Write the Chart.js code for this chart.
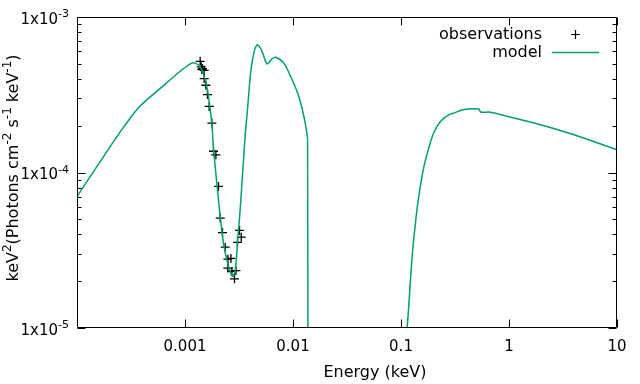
<!DOCTYPE html>
<html>
<head>
<meta charset="utf-8">
<script src="https://cdn.jsdelivr.net/npm/chart.js@4/dist/chart.umd.min.js"></script>
<style>
  body { margin: 0; background: #fff; }
  #wrap { width: 640px; height: 384px; }
</style>
</head>
<body>
<div id="wrap"><canvas id="myChart" width="640" height="384"></canvas></div>
<script>
// model curve (keV, keV^2 photons/cm^2/s/keV), null = gap
var modelEnergy = [1e-4, 1.469e-4, 2.249e-4, 2.786e-4, 3.838e-4, 6.13e-4, 9.02e-4, 1.047e-3, 1.165e-3, 1.296e-3, 1.38e-3,
  1.54e-3, 1.65e-3, 1.77e-3, 1.84e-3, 1.97e-3, 2.12e-3, 2.27e-3, 2.44e-3, 2.62e-3, 2.76e-3,
  2.92e-3, 3.06e-3, 3.24e-3, 3.48e-3, 3.61e-3, 3.74e-3, 3.88e-3, 4.02e-3, 4.17e-3, 4.47e-3,
  4.7e-3, 5.16e-3, 5.74e-3, 6.39e-3, 6.86e-3, 8.19e-3, 9.79e-3, 1.13e-2, 1.26e-2, 1.366e-2,
  1.366e-2, 0.05, 0.105, 0.114, 0.1268, 0.136, 0.146, 0.163, 0.181, 0.201,
  0.232, 0.277, 0.308, 0.382, 0.526, 0.546, 0.675, 1.0, 1.96, 4.0, 10];
var modelFlux = [7.01e-5, 1.047e-4, 1.633e-4, 2.018e-4, 2.673e-4, 3.556e-4, 4.48e-4, 4.84e-4, 5.07e-4, 4.98e-4, 4.82e-4,
  3.96e-4, 3.09e-4, 2.08e-4, 1.40e-4, 8.56e-5, 5.21e-5, 3.51e-5, 2.74e-5, 2.31e-5, 2.14e-5,
  2.36e-5, 3.51e-5, 5.75e-5, 1.2e-4, 1.75e-4, 2.30e-4, 3.09e-4, 4.16e-4, 5.07e-4, 6.33e-4,
  6.62e-4, 6.03e-4, 5.0e-4, 5.38e-4, 5.51e-4, 5.07e-4, 3.96e-4, 3.09e-4, 2.30e-4, 1.586e-4,
  1e-7, null, 6e-6, 1.0e-5, 2.88e-5, 4.73e-5, 7.01e-5, 1.09e-4, 1.44e-4, 1.80e-4,
  2.13e-4, 2.35e-4, 2.41e-4, 2.54e-4, 2.56e-4, 2.45e-4, 2.44e-4, 2.28e-4, 2.03e-4, 1.75e-4, 1.40e-4];

// observations
var obsEnergy = [1.382e-3, 1.411e-3, 1.451e-3, 1.433e-3, 1.505e-3, 1.505e-3, 1.561e-3, 1.614e-3, 1.674e-3, 1.774e-3,
  1.836e-3, 1.932e-3, 2.042e-3, 2.118e-3, 2.224e-3, 2.356e-3, 2.496e-3, 2.661e-3, 2.496e-3, 2.719e-3,
  2.961e-3, 2.873e-3, 3.065e-3, 3.199e-3, 3.317e-3];
var obsFlux = [5.19e-4, 4.78e-4, 4.66e-4, 4.59e-4, 4.54e-4, 4.02e-4, 3.64e-4, 3.17e-4, 2.66e-4, 2.08e-4,
  1.37e-4, 1.30e-4, 8.14e-5, 5.09e-5, 4.11e-5, 3.31e-5, 2.77e-5, 2.80e-5, 2.43e-5, 2.31e-5,
  2.34e-5, 2.07e-5, 3.55e-5, 4.24e-5, 3.84e-5];

var xTicks = [0.001, 0.01, 0.1, 1, 10];
var xTickLabels = ['0.001', '0.01', '0.1', '1', '10'];
var yTicks = [1e-5, 1e-4, 1e-3];
var yTickExp = ['-5', '-4', '-3'];

var green = '#009e73';
var FONT = '"DejaVu Sans", sans-serif';

function drawRich(ctx, parts, x, y, size, align) {
  // parts: [text, isSuperscript]
  var small = Math.round(size * 0.72);
  var w = 0, i;
  for (i = 0; i < parts.length; i++) {
    ctx.font = (parts[i][1] ? small : size) + 'px ' + FONT;
    w += ctx.measureText(parts[i][0]).width;
  }
  var cx = align === 'right' ? x - w : (align === 'center' ? x - w / 2 : x);
  ctx.textAlign = 'left';
  ctx.textBaseline = 'alphabetic';
  for (i = 0; i < parts.length; i++) {
    ctx.font = (parts[i][1] ? small : size) + 'px ' + FONT;
    ctx.fillText(parts[i][0], cx, parts[i][1] ? y - size * 0.42 : y);
    cx += ctx.measureText(parts[i][0]).width;
  }
}

var frame = {
  id: 'frame',
  afterDraw: function(chart) {
    var ctx = chart.ctx, a = chart.chartArea;
    var xs = chart.scales.x, ys = chart.scales.y;
    var L = Math.round(a.left) + 0.5, R = Math.round(a.right) - 0.5;
    var T = Math.round(a.top) + 0.5, B = Math.round(a.bottom) - 0.5;
    ctx.save();
    ctx.strokeStyle = '#000';
    ctx.lineWidth = 1;
    ctx.beginPath();
    ctx.rect(L, T, R - L, B - T);
    // y ticks
    for (var d = -5; d < -2; d++) {
      for (var m = 1; m <= 9; m++) {
        var v = m * Math.pow(10, d);
        var py = Math.round(ys.getPixelForValue(v)) + 0.5;
        var len = m === 1 ? 8 : 4;
        ctx.moveTo(L, py); ctx.lineTo(L + len, py);
        ctx.moveTo(R, py); ctx.lineTo(R - len, py);
      }
    }
    ctx.moveTo(L, T); ctx.lineTo(L + 8, T);
    ctx.moveTo(R, T); ctx.lineTo(R - 8, T);
    // x ticks
    xTicks.forEach(function(v) {
      var px = Math.round(xs.getPixelForValue(v)) + 0.5;
      ctx.moveTo(px, B); ctx.lineTo(px, B - 8);
      ctx.moveTo(px, T); ctx.lineTo(px, T + 8);
    });
    ctx.stroke();

    ctx.fillStyle = '#000';
    ctx.font = '15px ' + FONT;
    ctx.textAlign = 'center';
    ctx.textBaseline = 'middle';
    xTicks.forEach(function(v, i) {
      ctx.fillText(xTickLabels[i], xs.getPixelForValue(v), 347);
    });
    yTicks.forEach(function(v, i) {
      var py = ys.getPixelForValue(v);
      drawRich(ctx, [['1x10', false], [yTickExp[i], true]], 69, py + 6.5, 15, 'right');
    });

    // axis titles
    ctx.font = '16px ' + FONT;
    ctx.textAlign = 'center';
    ctx.textBaseline = 'middle';
    ctx.fillText('Energy (keV)', 375, 373);
    ctx.save();
    ctx.translate(18, 168);
    ctx.rotate(-Math.PI / 2);
    drawRich(ctx, [['keV', false], ['2', true], ['(Photons cm', false], ['-2', true],
      [' s', false], ['-1', true], [' keV', false], ['-1', true], [')', false]], 0, 0, 16, 'center');
    ctx.restore();

    // legend
    ctx.font = '16px ' + FONT;
    ctx.textAlign = 'right';
    ctx.textBaseline = 'middle';
    ctx.fillText('observations', 542, 35);
    ctx.fillText('model', 542, 53);
    ctx.lineWidth = 1.2;
    ctx.beginPath();
    ctx.moveTo(571, 34.5); ctx.lineTo(580, 34.5);
    ctx.moveTo(575.5, 30); ctx.lineTo(575.5, 39);
    ctx.stroke();
    ctx.strokeStyle = green;
    ctx.lineWidth = 1.5;
    ctx.beginPath();
    ctx.moveTo(552, 52.5); ctx.lineTo(599, 52.5);
    ctx.stroke();
    ctx.restore();
  }
};

var modelData = modelEnergy.map(function(e, i) { return {x: e, y: modelFlux[i]}; });
var obsData = obsEnergy.map(function(e, i) { return {x: e, y: obsFlux[i]}; });

var ctx = document.getElementById('myChart').getContext('2d');
var myChart = new Chart(ctx, {
  type: 'line',
  data: {
    datasets: [{
      label: 'model',
      data: modelData,
      borderColor: green,
      borderWidth: 1.5,
      pointRadius: 0,
      tension: 0.3,
      spanGaps: false,
      order: 0
    }, {
      label: 'observations',
      data: obsData,
      showLine: false,
      pointStyle: 'cross',
      pointRadius: 4.5,
      borderColor: '#000',
      pointBorderWidth: 1.3,
      order: 1
    }]
  },
  options: {
    responsive: false,
    animation: false,
    layout: { padding: { left: 77, top: 17, right: 23, bottom: 56 } },
    plugins: { legend: { display: false }, tooltip: { enabled: false } },
    scales: {
      x: { type: 'logarithmic', min: 1e-4, max: 10, display: false },
      y: { type: 'logarithmic', min: 1e-5, max: 1e-3, display: false }
    }
  },
  plugins: [frame]
});
</script>
</body>
</html>
